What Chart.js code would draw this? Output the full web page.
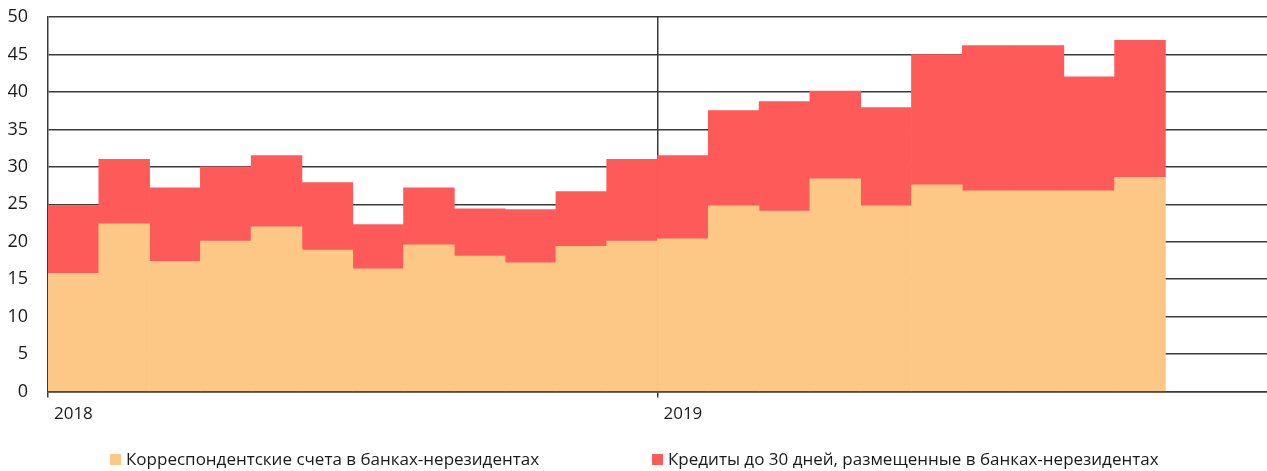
<!DOCTYPE html>
<html>
<head>
<meta charset="utf-8">
<script src="https://cdn.jsdelivr.net/npm/chart.js@4"></script>
<style>
  body { margin: 0; background: #fff; }
  #wrap { position: relative; width: 1267px; height: 471px; }
  #legend { position: absolute; left: 0; top: 447px; width: 1267px; height: 22px;
    font-family: "Open Sans", sans-serif; font-size: 17px; color: #1a1a1a; }
  .item { position: absolute; top: 0; white-space: nowrap; }
  .box { display: inline-block; width: 11px; height: 11px; margin-right: 5px; }
</style>
</head>
<body>
<div id="wrap">
  <canvas id="myChart" width="1267" height="471"></canvas>
  <div id="legend"></div>
</div>
<script>
// months Jan 2018 .. Dec 2019, only years are labelled
var labels = ['2018','','','','','','','','','','','','2019','','','','','','','','','','',''];

// корр. счета, млрд
var corrAccounts = [15.8, 22.4, 17.4, 20.1, 22.0, 18.9, 16.4, 19.6, 18.1, 17.2, 19.4, 20.1,
                    20.4, 24.8, 24.1, 28.4, 24.8, 27.6, 26.8, 26.8, 26.8, 28.6];
// кредиты до 30 дней
var shortLoans = [9.0, 8.6, 9.8, 9.9, 9.5, 9.0, 5.9, 7.6, 6.3, 7.1, 7.3, 10.9,
                  11.1, 12.7, 14.6, 11.7, 13.1, 17.4, 19.4, 19.4, 15.2, 18.3];

var seriesNames = ['Корреспондентские счета в банках-нерезидентах',
                   'Кредиты до 30 дней, размещенные в банках-нерезидентах'];
var seriesColors = ['#fdc886', '#ff5a5a'];
var legendLeft = [110, 652];

var gridColor = '#3a3a3a';
var tickFont = { family: 'Open Sans', size: 18 };

const ctx = document.getElementById('myChart');
const myChart = new Chart(ctx, {
  type: 'bar',
  data: {
    labels: labels,
    datasets: [
      { label: seriesNames[0], data: corrAccounts, backgroundColor: seriesColors[0],
        barPercentage: 1, categoryPercentage: 1, borderWidth: 0 },
      { label: seriesNames[1], data: shortLoans, backgroundColor: seriesColors[1],
        barPercentage: 1, categoryPercentage: 1, borderWidth: 0 }
    ]
  },
  options: {
    responsive: false,
    animation: false,
    layout: { padding: { left: 8, top: 17, right: 0, bottom: 41 } },
    plugins: { legend: { display: false }, tooltip: { enabled: false } },
    scales: {
      x: {
        stacked: true,
        grid: {
          offset: true,
          color: function(c) { return c.index === 12 ? gridColor : 'rgba(0,0,0,0)'; },
          tickColor: function(c) { return (c.index === 0 || c.index === 12) ? gridColor : 'rgba(0,0,0,0)'; },
          tickLength: 6,
          lineWidth: 1.5
        },
        border: { color: gridColor, width: 1.5 },
        ticks: { color: '#1a1a1a', font: { family: 'Open Sans', size: 17 }, autoSkip: false, maxRotation: 0, padding: 6 }
      },
      y: {
        stacked: true,
        min: 0,
        max: 50,
        // fixed axis width, and no extra room above the top label
        afterFit: function(axis) { axis.width = 40; axis.paddingTop = 0; },
        grid: { color: gridColor, lineWidth: 1.5, drawTicks: false },
        border: { color: gridColor, width: 1.5 },
        ticks: { stepSize: 5, color: '#1a1a1a', font: tickFont, padding: 20 }
      }
    }
  }
});

// legend below the chart
var legendDiv = document.getElementById('legend');
for (var i = 0; i < seriesNames.length; i++) {
  var item = document.createElement('div');
  item.className = 'item';
  item.style.left = legendLeft[i] + 'px';
  item.innerHTML = '<span class="box" style="background:' + seriesColors[i] + '"></span>' + seriesNames[i];
  legendDiv.appendChild(item);
}
</script>
</body>
</html>
